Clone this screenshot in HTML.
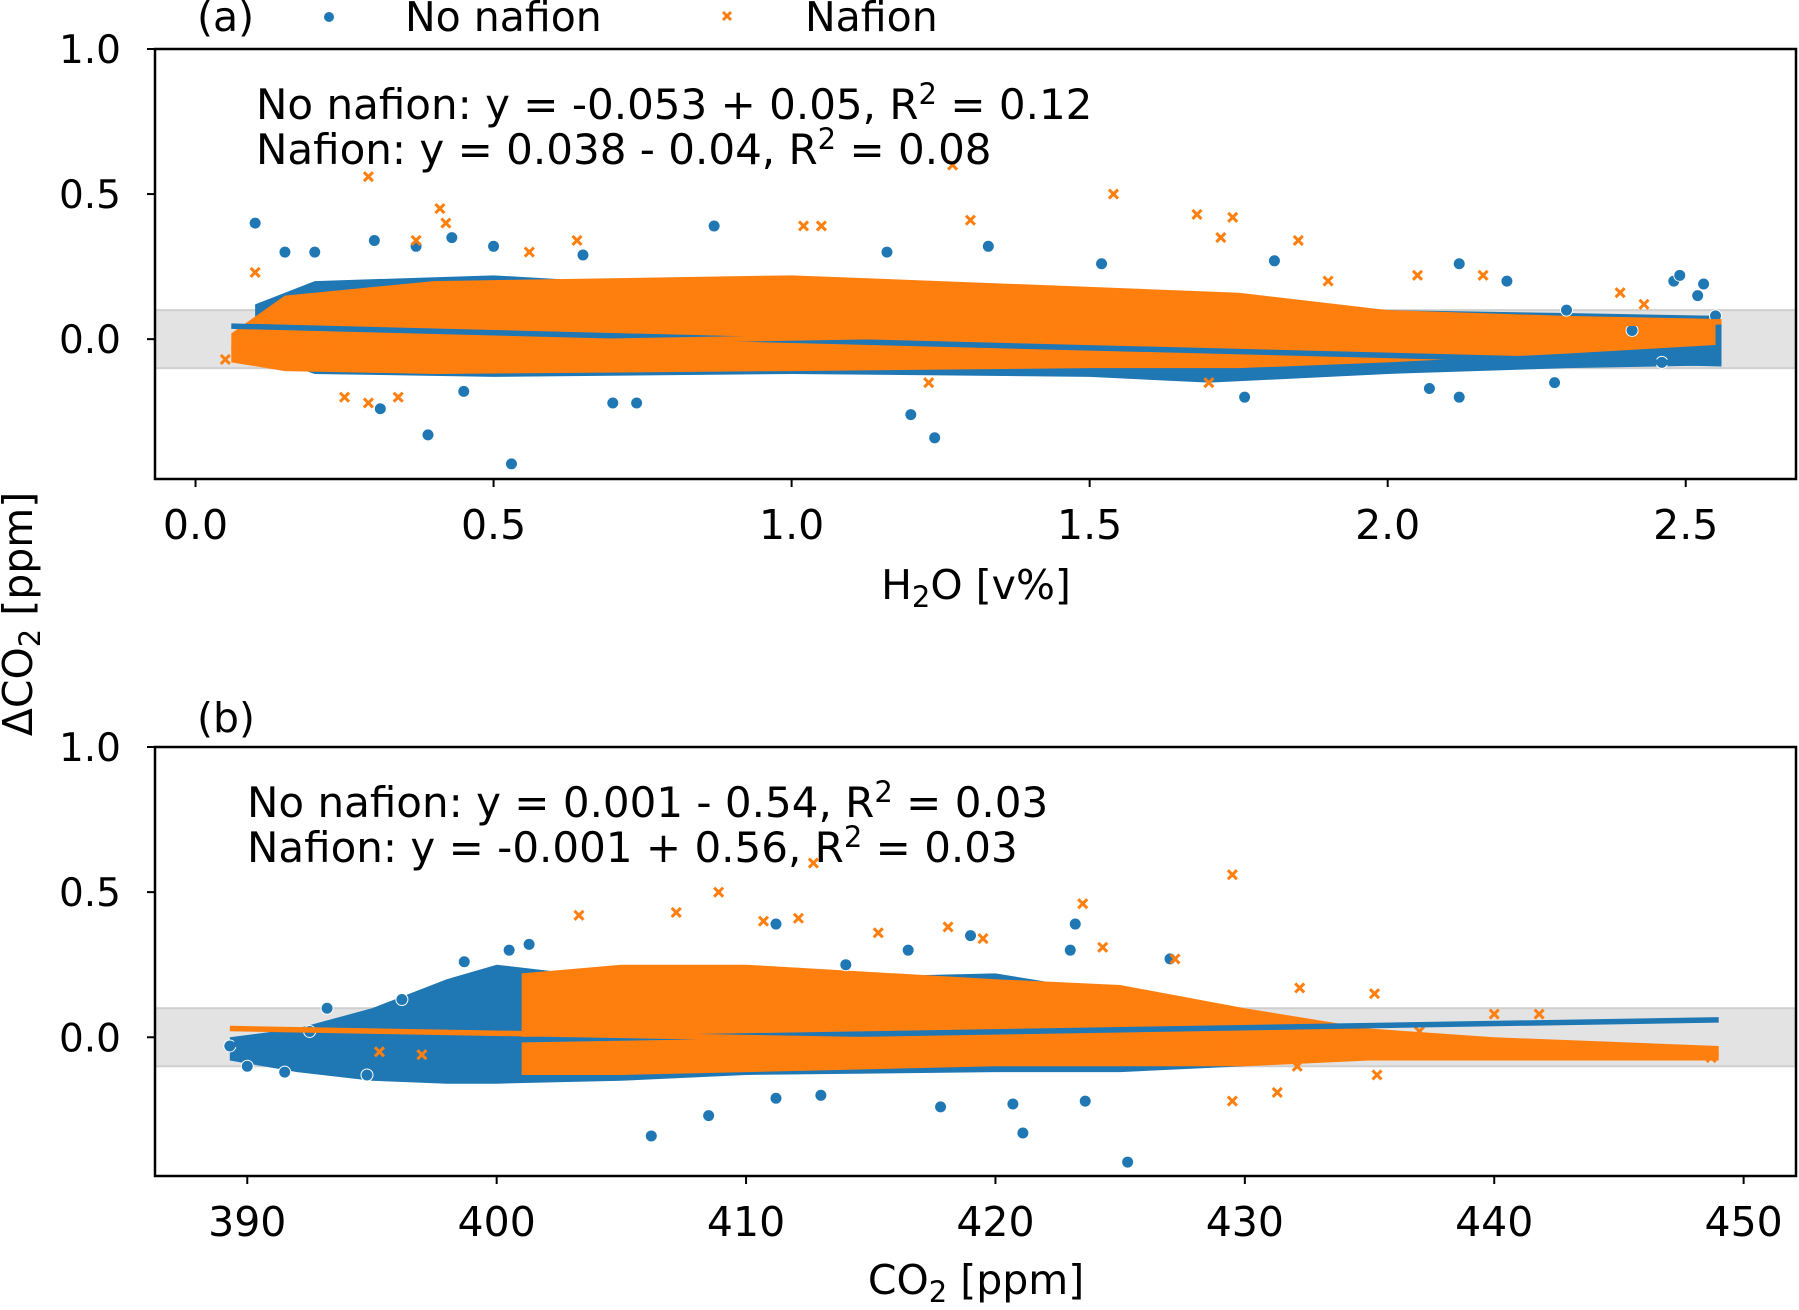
<!DOCTYPE html>
<html><head><meta charset="utf-8"><style>
html,body{margin:0;padding:0;background:#fff}
svg text{font-family:"DejaVu Sans","Liberation Sans",sans-serif;fill:#000}
</style></head><body>
<svg id="chart" width="1799" height="1305" viewBox="0 0 1799 1305" xmlns="http://www.w3.org/2000/svg">
<g id="root"></g>
</svg>
<script>
// ---------- Panel (a) data ----------
const aXTicks = [0.0, 0.5, 1.0, 1.5, 2.0, 2.5];
const aXTickLabels = ["0.0", "0.5", "1.0", "1.5", "2.0", "2.5"];
const yTicks = [0.0, 0.5, 1.0];
const yTickLabels = ["0.0", "0.5", "1.0"];
const aBlueEnvX = [0.1, 0.2, 0.5, 1.0, 1.5, 1.7, 2.0, 2.3, 2.56];
const aBlueEnvHi = [0.12, 0.2, 0.22, 0.16, 0.15, 0.14, 0.1, 0.09, 0.08];
const aBlueEnvLo = [-0.05, -0.12, -0.13, -0.12, -0.13, -0.15, -0.12, -0.1, -0.09];
const aOrangeEnvX = [0.06, 0.15, 0.4, 1.0, 1.5, 1.75, 2.0, 2.3, 2.55];
const aOrangeEnvHi = [0.02, 0.15, 0.2, 0.22, 0.18, 0.16, 0.1, 0.08, 0.07];
const aOrangeEnvLo = [-0.08, -0.11, -0.12, -0.11, -0.1, -0.1, -0.08, -0.05, -0.02];
const aBlueX = [0.1,0.3,0.37,0.43,0.5,0.87,0.65,1.16,1.33,2.12,2.2,2.48,2.53,2.52,2.55,0.39,0.53,1.24,1.2,0.31,0.7,0.74,2.12,2.07,1.76,0.15,0.2,1.52,1.81,2.3,2.46,2.28,0.45,2.49,2.41];
const aBlueY = [0.4,0.34,0.32,0.35,0.32,0.39,0.29,0.3,0.32,0.26,0.2,0.2,0.19,0.15,0.08,-0.33,-0.43,-0.34,-0.26,-0.24,-0.22,-0.22,-0.2,-0.17,-0.2,0.3,0.3,0.26,0.27,0.1,-0.08,-0.15,-0.18,0.22,0.03];
const aOrangeX = [0.29,0.41,0.42,1.27,1.3,1.54,1.68,1.74,1.05,1.02,0.64,0.37,0.56,1.72,1.85,2.39,2.43,2.16,1.9,0.25,0.29,0.34,0.05,0.1,1.7,1.23,2.05,2.35,2.45];
const aOrangeY = [0.56,0.45,0.4,0.6,0.41,0.5,0.43,0.42,0.39,0.39,0.34,0.34,0.3,0.35,0.34,0.16,0.12,0.22,0.2,-0.2,-0.22,-0.2,-0.07,0.23,-0.15,-0.15,0.22,0.04,0.02];
const aBlueLineX = [0.06, 2.56];
const aBlueLineY = [0.045, -0.085];
const aOrangeLineX = [0.06, 2.56];
const aOrangeLineY = [-0.03, 0.06];

// ---------- Panel (b) data ----------
const bXTicks = [390, 400, 410, 420, 430, 440, 450];
const bXTickLabels = ["390", "400", "410", "420", "430", "440", "450"];
const bBlueEnvX = [389.3, 392, 395, 398, 400, 405, 410, 420, 425, 430];
const bBlueEnvHi = [0.0, 0.03, 0.1, 0.2, 0.25, 0.2, 0.2, 0.22, 0.15, 0.05];
const bBlueEnvLo = [-0.08, -0.12, -0.15, -0.16, -0.16, -0.15, -0.13, -0.12, -0.12, -0.1];
const bOrangeEnvX = [401, 405, 410, 420, 425, 430, 435, 440, 449];
const bOrangeEnvHi = [0.22, 0.25, 0.25, 0.2, 0.18, 0.1, 0.03, 0.0, -0.03];
const bOrangeEnvLo = [-0.13, -0.13, -0.12, -0.1, -0.1, -0.1, -0.08, -0.08, -0.08];
const bBlueX = [425.3,406.2,421.1,408.5,417.8,420.7,423.6,411.2,413,401.3,398.7,400.5,411.2,423.2,419,416.5,423,414,396.2,393.2,390,389.3,391.5,427,392.5,394.8];
const bBlueY = [-0.43,-0.34,-0.33,-0.27,-0.24,-0.23,-0.22,-0.21,-0.2,0.32,0.26,0.3,0.39,0.39,0.35,0.3,0.3,0.25,0.13,0.1,-0.1,-0.03,-0.12,0.27,0.02,-0.13];
const bOrangeX = [412.7,408.9,429.5,423.5,407.2,403.3,410.7,412.1,418.1,415.3,419.5,424.3,427.2,432.2,435.2,440,441.8,429.5,431.3,435.3,432.1,397,395.3,446,447.5,448.7,443,437];
const bOrangeY = [0.6,0.5,0.56,0.46,0.43,0.42,0.4,0.41,0.38,0.36,0.34,0.31,0.27,0.17,0.15,0.08,0.08,-0.22,-0.19,-0.13,-0.1,-0.06,-0.05,-0.06,-0.05,-0.07,-0.06,0.02];
const bBlueLineX = [389.3, 449];
const bBlueLineY = [-0.025, 0.06];
const bOrangeLineX = [389.3, 449];
const bOrangeLineY = [0.03, -0.06];

const BLUE = "#1f77b4", ORANGE = "#ff7f0e";
const NS = "http://www.w3.org/2000/svg";
const root = document.getElementById("root");
function mk(tag, attrs, parent) {
  const e = document.createElementNS(NS, tag);
  for (const k in attrs) e.setAttribute(k, attrs[k]);
  (parent || root).appendChild(e);
  return e;
}

function panel(p) {
  const g = mk("g", {});
  
  
  const sx = v => p.L + (v - p.x0) / (p.x1 - p.x0) * (p.R - p.L);
  const sy = v => p.B - (v - p.y0) / (p.y1 - p.y0) * (p.B - p.T);
  const band = mk("rect", {x: p.L, y: sy(0.1), width: p.R - p.L, height: sy(-0.1) - sy(0.1), fill: "#e3e3e3", stroke: "#cfcfcf", "stroke-width": 2}, g);
  
  
  function env(xs, hi, lo, color, name) {
    let d = "M" + xs.map((x, i) => sx(x) + "," + sy(hi[i])).join(" L");
    for (let i = xs.length - 1; i >= 0; i--) d += " L" + sx(xs[i]) + "," + sy(lo[i]);
    const e = mk("path", {d: d + "Z", fill: color}, g);
    
    
  }
  env(p.bEnvX, p.bEnvHi, p.bEnvLo, BLUE, 'no-nafion-dense-cloud');
  env(p.oEnvX, p.oEnvHi, p.oEnvLo, ORANGE, 'nafion-dense-cloud');
  p.bX.forEach((x, i) => {
    const c = mk("circle", {cx: sx(x), cy: sy(p.bY[i]), r: 6, fill: BLUE, stroke: "#fff", "stroke-width": 1}, g);
    
    
  });
  p.oX.forEach((x, i) => {
    const cx = sx(x), cy = sy(p.oY[i]), s = 4.5;
    const m = mk("path", {d: `M${cx-s},${cy-s}L${cx+s},${cy+s}M${cx-s},${cy+s}L${cx+s},${cy-s}`, stroke: ORANGE, "stroke-width": 3}, g);
    
    
  });
  const lb = mk("line", {x1: sx(p.blX[0]), y1: sy(p.blY[0]), x2: sx(p.blX[1]), y2: sy(p.blY[1]), stroke: BLUE, "stroke-width": 5.5}, g);
  
  
  const lo = mk("line", {x1: sx(p.olX[0]), y1: sy(p.olY[0]), x2: sx(p.olX[1]), y2: sy(p.olY[1]), stroke: ORANGE, "stroke-width": 5.5}, g);
  
  
  const fr = mk("rect", {x: p.L, y: p.T, width: p.R - p.L, height: p.B - p.T, fill: "none", stroke: "#000", "stroke-width": 2.5}, g);
  
  
  yTicks.forEach((v, i) => {
    const y = sy(v);
    const t = mk("line", {x1: p.L - 8, x2: p.L, y1: y, y2: y, stroke: "#000", "stroke-width": 2}, g);
    
    
    const tx = mk("text", {x: 121, y: y + 14, "text-anchor": "end", "font-size": 39}, g);
    tx.textContent = yTickLabels[i];
    
    
  });
  p.xt.forEach((v, i) => {
    const x = sx(v);
    const t = mk("line", {x1: x, x2: x, y1: p.B, y2: p.B + 8, stroke: "#000", "stroke-width": 2}, g);
    
    
    const tx = mk("text", {x: x, y: p.B + 60, "text-anchor": "middle", "font-size": 41}, g);
    tx.textContent = p.xtl[i];
    
    
  });
}

panel({name: 'panel-a', L: 155, R: 1796, T: 49, B: 479, x0: -0.068, x1: 2.685, y0: -0.482, y1: 1.0,
  bEnvX: aBlueEnvX, bEnvHi: aBlueEnvHi, bEnvLo: aBlueEnvLo, oEnvX: aOrangeEnvX, oEnvHi: aOrangeEnvHi, oEnvLo: aOrangeEnvLo,
  bX: aBlueX, bY: aBlueY, oX: aOrangeX, oY: aOrangeY, blX: aBlueLineX, blY: aBlueLineY, olX: aOrangeLineX, olY: aOrangeLineY,
  xt: aXTicks, xtl: aXTickLabels});
panel({name: 'panel-b', L: 155, R: 1796, T: 747, B: 1176, x0: 386.3, x1: 452.1, y0: -0.478, y1: 1.0,
  bEnvX: bBlueEnvX, bEnvHi: bBlueEnvHi, bEnvLo: bBlueEnvLo, oEnvX: bOrangeEnvX, oEnvHi: bOrangeEnvHi, oEnvLo: bOrangeEnvLo,
  bX: bBlueX, bY: bBlueY, oX: bOrangeX, oY: bOrangeY, blX: bBlueLineX, blY: bBlueLineY, olX: bOrangeLineX, olY: bOrangeLineY,
  xt: bXTicks, xtl: bXTickLabels});
</script>
<svg style="position:absolute;left:0;top:0" width="1799" height="1305" xmlns="http://www.w3.org/2000/svg">
  <text x="197" y="31" font-size="41">(a)</text>
  <circle cx="329" cy="17" r="5" fill="#1f77b4"/>
  <text x="405" y="31" font-size="41">No nafion</text>
  <path d="M723,12L731,20M723,20L731,12" stroke="#ff7f0e" stroke-width="3"/>
  <text x="805" y="31" font-size="41">Nafion</text>
  <text x="256" y="119" font-size="42">No nafion: y = -0.053 + 0.05, R<tspan dy="-15" font-size="29">2</tspan><tspan dy="15"> = 0.12</tspan></text>
  <text x="256" y="164" font-size="42">Nafion: y = 0.038 - 0.04, R<tspan dy="-15" font-size="29">2</tspan><tspan dy="15"> = 0.08</tspan></text>
  <text x="976" y="599" font-size="41" text-anchor="middle">H<tspan dy="8" font-size="29">2</tspan><tspan dy="-8">O [v%]</tspan></text>
  <text x="197" y="732" font-size="41">(b)</text>
  <text x="247" y="817" font-size="42">No nafion: y = 0.001 - 0.54, R<tspan dy="-15" font-size="29">2</tspan><tspan dy="15"> = 0.03</tspan></text>
  <text x="247" y="862" font-size="42">Nafion: y = -0.001 + 0.56, R<tspan dy="-15" font-size="29">2</tspan><tspan dy="15"> = 0.03</tspan></text>
  <text x="976" y="1294" font-size="41" text-anchor="middle">CO<tspan dy="8" font-size="29">2</tspan><tspan dy="-8"> [ppm]</tspan></text>
  <text transform="translate(32,614) rotate(-90)" font-size="41" text-anchor="middle">ΔCO<tspan dy="8" font-size="29">2</tspan><tspan dy="-8"> [ppm]</tspan></text>
</svg>
</body></html>
